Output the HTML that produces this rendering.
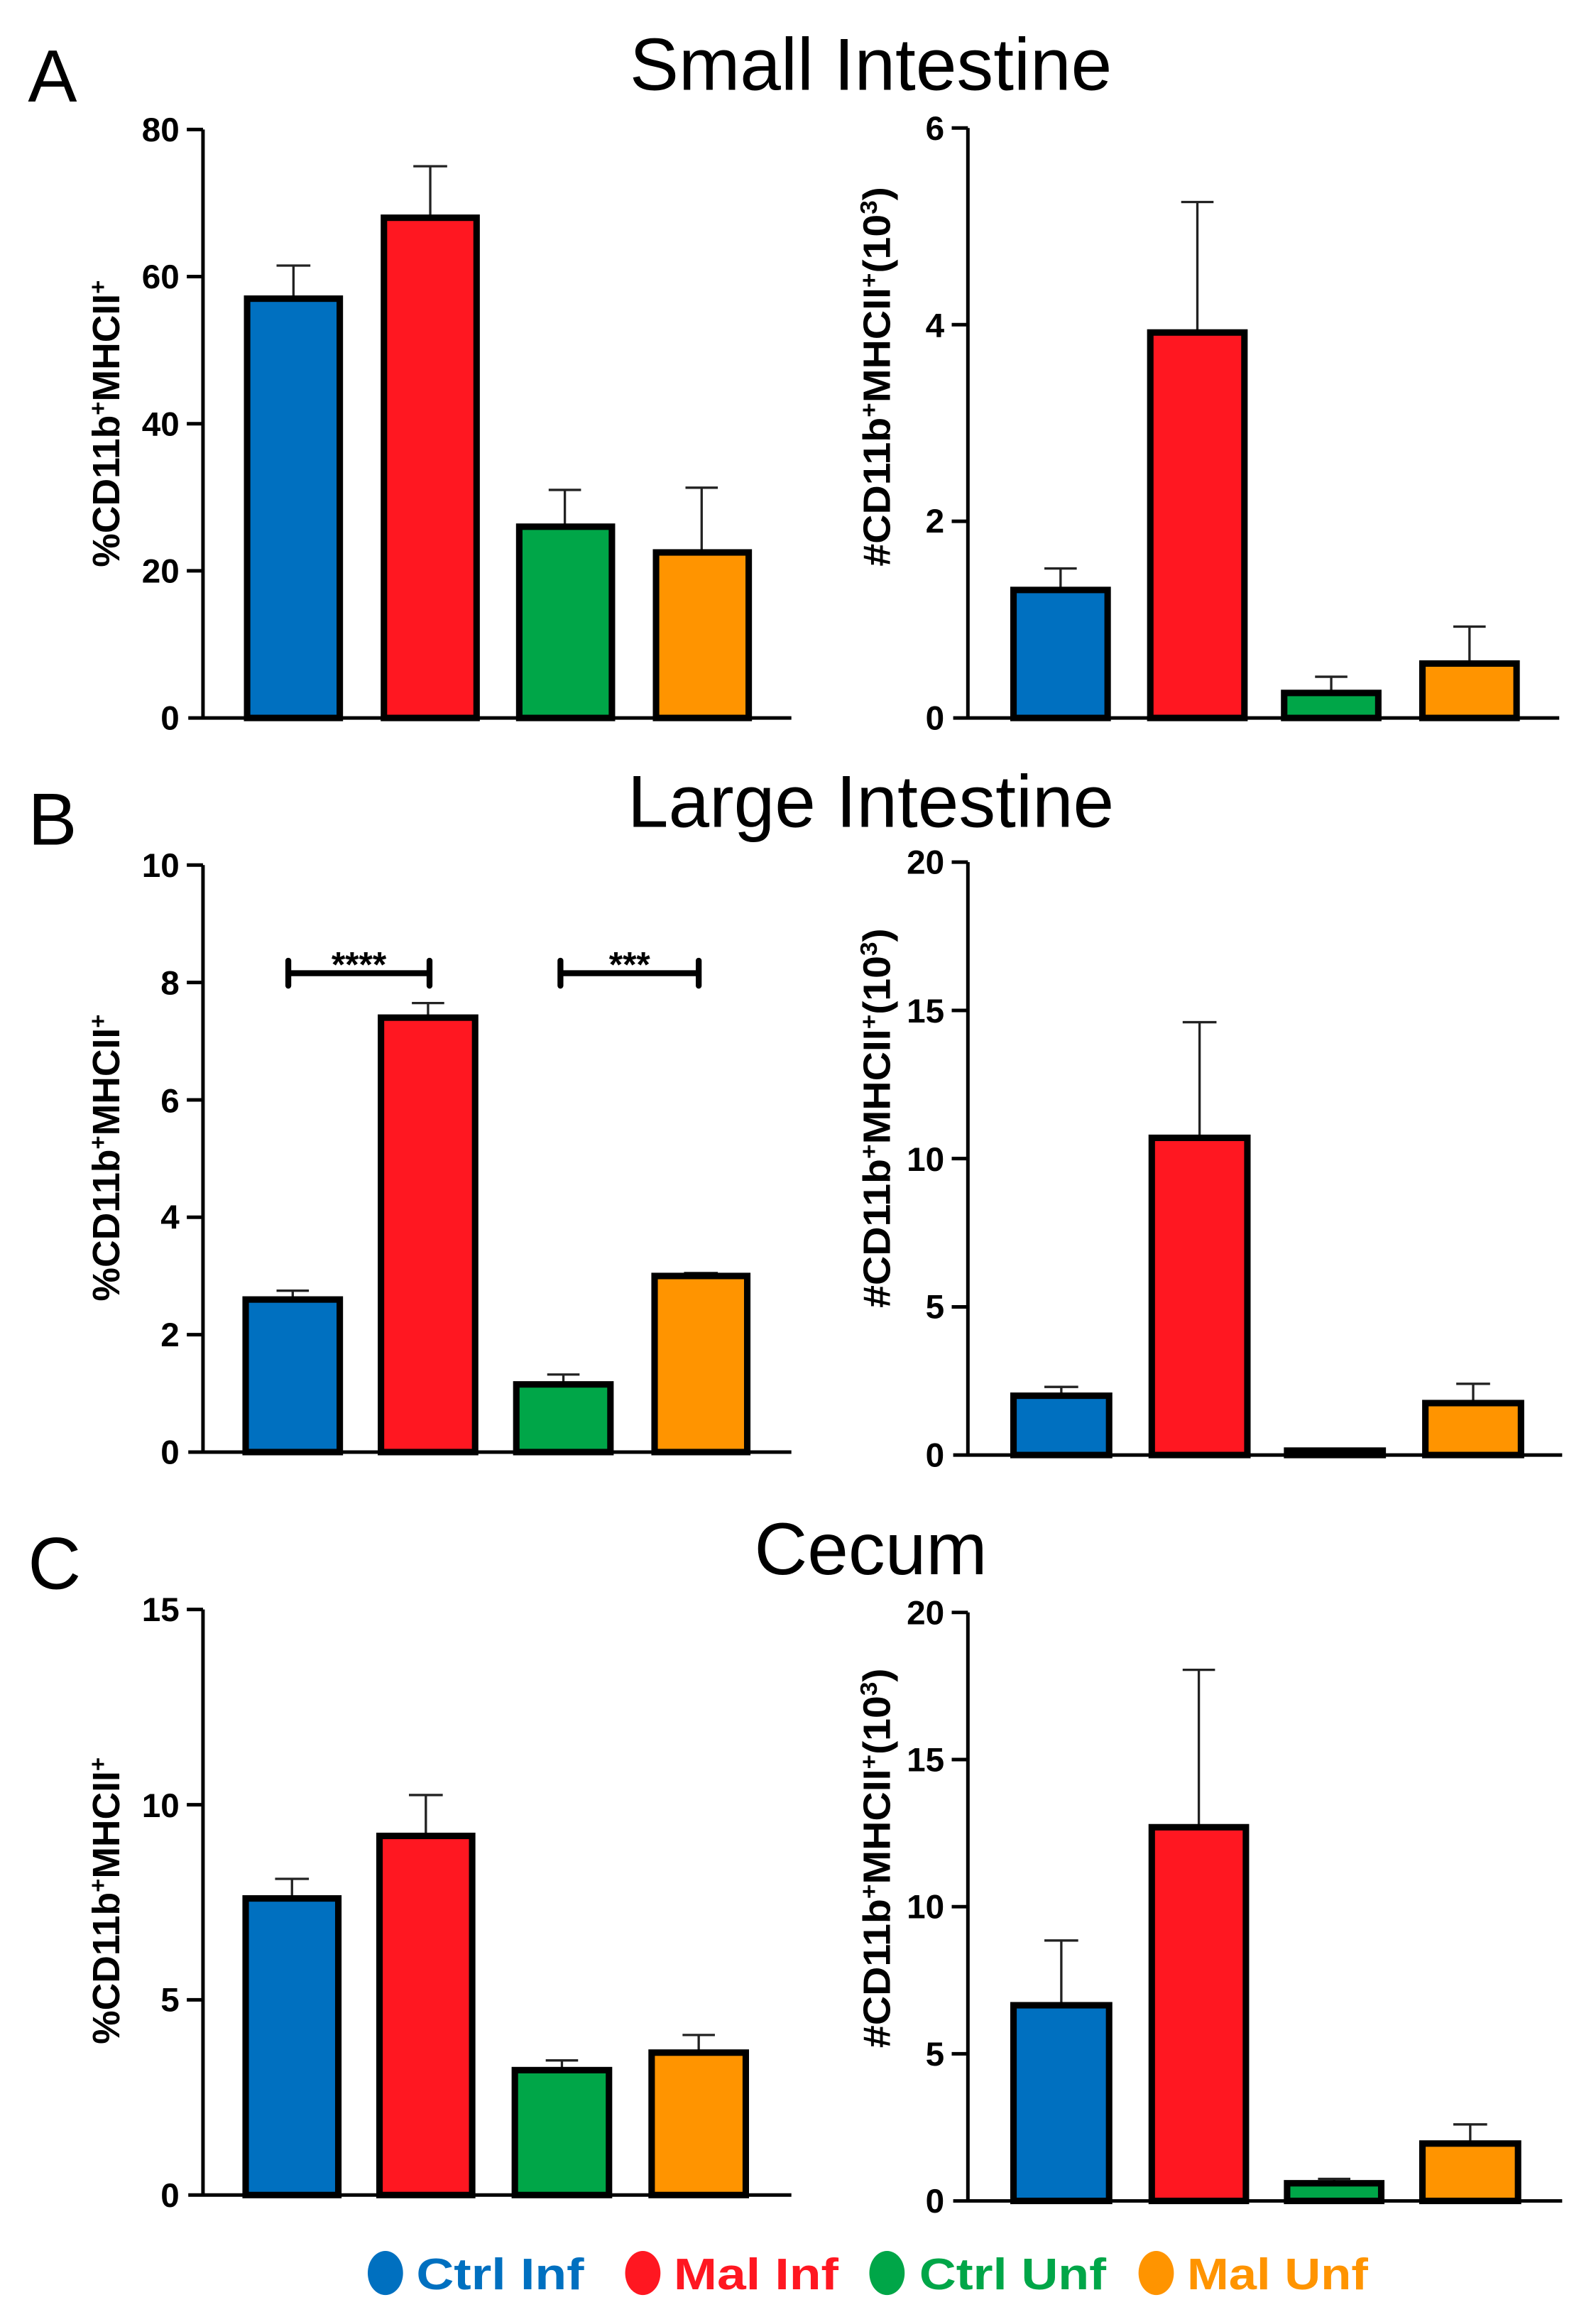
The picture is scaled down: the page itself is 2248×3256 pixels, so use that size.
<!DOCTYPE html>
<html><head><meta charset="utf-8"><style>
html,body{margin:0;padding:0;background:#fff}
svg{display:block}
.t{font-family:"Liberation Sans",sans-serif;font-weight:bold;font-size:23px;fill:#000}
.ti{font-family:"Liberation Sans",sans-serif;font-size:50px;fill:#000}
.yl{font-family:"Liberation Sans",sans-serif;font-weight:bold;font-size:26px;fill:#000}
.yr{font-family:"Liberation Sans",sans-serif;font-weight:bold;font-size:26px;fill:#000}
.lg{font-family:"Liberation Sans",sans-serif;font-weight:bold;font-size:30px}
.ax{stroke:#000;stroke-width:2.4;fill:none}
.b{stroke:#000;stroke-width:4.4}
.e{stroke:#222;stroke-width:1.6}
</style></head><body>
<svg width="2248" height="3256" viewBox="0 0 1085 1571.5" xmlns="http://www.w3.org/2000/svg">
<rect width="1085" height="1571.5" fill="#fff"/>
<text class="ti" x="19" y="69" font-size="50">A</text>
<text class="ti" x="592" y="61" text-anchor="middle">Small Intestine</text>
<text class="ti" x="19" y="574" font-size="50">B</text>
<text class="ti" x="592" y="562" text-anchor="middle">Large Intestine</text>
<text class="ti" x="19" y="1080" font-size="50">C</text>
<text class="ti" x="592" y="1070" text-anchor="middle">Cecum</text>

<!-- A left -->
<g>
<path class="ax" d="M138 88 V488 M128 488 H538 M127 88 H138 M127 188 H138 M127 288 H138 M127 388 H138"/>
<g class="t" text-anchor="end"><text x="122" y="96">80</text><text x="122" y="196">60</text><text x="122" y="296">40</text><text x="122" y="396">20</text><text x="122" y="496">0</text></g>
<text class="yl" transform="translate(81,288) rotate(-90)" text-anchor="middle" textLength="195" lengthAdjust="spacingAndGlyphs">%CD11b<tspan dy="-9" font-size="16">+</tspan><tspan dy="9">MHCII</tspan><tspan dy="-9" font-size="16">+</tspan></text>
<path class="e" d="M199.5 203 V180.5 M188 180.5 H211 M292.5 148 V113 M281 113 H304 M384 358 V333 M373 333 H395 M477 375.5 V331.5 M466 331.5 H488"/>
<rect class="b" x="168" y="203" width="63" height="285" fill="#0070C0"/>
<rect class="b" x="261" y="148" width="63" height="340" fill="#FF1721"/>
<rect class="b" x="353" y="358" width="63" height="130" fill="#00A648"/>
<rect class="b" x="446" y="375.5" width="63" height="112.5" fill="#FF9400"/>
</g>

<!-- A right -->
<g>
<path class="ax" d="M658 87 V488 M648 488 H1060 M647 87 H658 M647 220.7 H658 M647 354.3 H658"/>
<g class="t" text-anchor="end"><text x="642" y="95">6</text><text x="642" y="229">4</text><text x="642" y="362">2</text><text x="642" y="496">0</text></g>
<text class="yr" transform="translate(605,256) rotate(-90)" text-anchor="middle" textLength="258" lengthAdjust="spacingAndGlyphs">#CD11b<tspan dy="-9" font-size="16">+</tspan><tspan dy="9">MHCII</tspan><tspan dy="-9" font-size="16">+</tspan><tspan dy="9">(10</tspan><tspan dy="-9" font-size="16">3</tspan><tspan dy="9">)</tspan></text>
<path class="e" d="M721 401 V386.4 M710 386.4 H732 M814 226 V137.3 M803 137.3 H825 M905 471 V460 M894 460 H916 M999 451 V425.9 M988 425.9 H1010"/>
<rect class="b" x="689" y="401" width="64" height="87" fill="#0070C0"/>
<rect class="b" x="782" y="226" width="64" height="262" fill="#FF1721"/>
<rect class="b" x="873" y="471" width="64" height="17" fill="#00A648"/>
<rect class="b" x="967" y="451" width="64" height="37" fill="#FF9400"/>
</g>

<!-- B left -->
<g>
<path class="ax" d="M138 588 V987 M128 987 H538 M127 588 H138 M127 667.8 H138 M127 747.6 H138 M127 827.4 H138 M127 907.2 H138"/>
<g class="t" text-anchor="end"><text x="122" y="596">10</text><text x="122" y="676">8</text><text x="122" y="756">6</text><text x="122" y="835">4</text><text x="122" y="915">2</text><text x="122" y="995">0</text></g>
<text class="yl" transform="translate(81,787) rotate(-90)" text-anchor="middle" textLength="195" lengthAdjust="spacingAndGlyphs">%CD11b<tspan dy="-9" font-size="16">+</tspan><tspan dy="9">MHCII</tspan><tspan dy="-9" font-size="16">+</tspan></text>
<path class="e" d="M199 883.3 V877.3 M188 877.3 H210 M291 691.7 V681.8 M280 681.8 H302 M383 941 V934.3 M372 934.3 H394 M476.5 867.3 V865.3 M465 865.3 H488"/>
<rect class="b" x="167" y="883.3" width="64" height="103.7" fill="#0070C0"/>
<rect class="b" x="259" y="691.7" width="64" height="295.3" fill="#FF1721"/>
<rect class="b" x="351" y="941" width="64" height="46" fill="#00A648"/>
<rect class="b" x="445" y="867.3" width="63" height="119.7" fill="#FF9400"/>
<path d="M196 661.5 H292 M196 653 V670 M292 653 V670 M381 661.5 H475 M381 653 V670 M475 653 V670" stroke="#000" stroke-width="4" stroke-linecap="round"/>
<text x="244" y="664" text-anchor="middle" font-family="Liberation Sans,sans-serif" font-weight="bold" font-size="24">****</text>
<text x="428" y="664" text-anchor="middle" font-family="Liberation Sans,sans-serif" font-weight="bold" font-size="24">***</text>
</g>

<!-- B right -->
<g>
<path class="ax" d="M658 586 V989 M648 989 H1062 M647 586 H658 M647 686.8 H658 M647 787.5 H658 M647 888.3 H658"/>
<g class="t" text-anchor="end"><text x="642" y="594">20</text><text x="642" y="695">15</text><text x="642" y="796">10</text><text x="642" y="896">5</text><text x="642" y="997">0</text></g>
<text class="yr" transform="translate(605,760) rotate(-90)" text-anchor="middle" textLength="258" lengthAdjust="spacingAndGlyphs">#CD11b<tspan dy="-9" font-size="16">+</tspan><tspan dy="9">MHCII</tspan><tspan dy="-9" font-size="16">+</tspan><tspan dy="9">(10</tspan><tspan dy="-9" font-size="16">3</tspan><tspan dy="9">)</tspan></text>
<path class="e" d="M721.5 948.7 V942.7 M710 942.7 H733 M815.5 773.4 V694.8 M804 694.8 H827 M896 985 H919 M1001.5 953.7 V940.6 M990 940.6 H1013"/>
<rect class="b" x="689" y="948.7" width="65" height="40.3" fill="#0070C0"/>
<rect class="b" x="783" y="773.4" width="65" height="215.6" fill="#FF1721"/>
<rect class="b" x="875" y="986" width="65" height="3" fill="#00A648"/>
<rect class="b" x="969" y="953.7" width="65" height="35.3" fill="#FF9400"/>
</g>

<!-- C left -->
<g>
<path class="ax" d="M138 1094 V1492 M128 1492 H538 M127 1094 H138 M127 1226.7 H138 M127 1359.3 H138"/>
<g class="t" text-anchor="end"><text x="122" y="1102">15</text><text x="122" y="1235">10</text><text x="122" y="1367">5</text><text x="122" y="1500">0</text></g>
<text class="yl" transform="translate(81,1292) rotate(-90)" text-anchor="middle" textLength="195" lengthAdjust="spacingAndGlyphs">%CD11b<tspan dy="-9" font-size="16">+</tspan><tspan dy="9">MHCII</tspan><tspan dy="-9" font-size="16">+</tspan></text>
<path class="e" d="M198.5 1290.4 V1277.1 M187 1277.1 H210 M289.5 1247.9 V1220.1 M278 1220.1 H301 M382 1407.1 V1400.5 M371 1400.5 H393 M475 1395.2 V1383.2 M464 1383.2 H486"/>
<rect class="b" x="167" y="1290.4" width="63" height="201.6" fill="#0070C0"/>
<rect class="b" x="258" y="1247.9" width="63" height="244.1" fill="#FF1721"/>
<rect class="b" x="350" y="1407.1" width="64" height="84.9" fill="#00A648"/>
<rect class="b" x="443" y="1395.2" width="64" height="96.8" fill="#FF9400"/>
</g>

<!-- C right -->
<g>
<path class="ax" d="M658 1096 V1496 M648 1496 H1062 M647 1096 H658 M647 1196 H658 M647 1296 H658 M647 1396 H658"/>
<g class="t" text-anchor="end"><text x="642" y="1104">20</text><text x="642" y="1204">15</text><text x="642" y="1304">10</text><text x="642" y="1404">5</text><text x="642" y="1504">0</text></g>
<text class="yr" transform="translate(605,1263) rotate(-90)" text-anchor="middle" textLength="258" lengthAdjust="spacingAndGlyphs">#CD11b<tspan dy="-9" font-size="16">+</tspan><tspan dy="9">MHCII</tspan><tspan dy="-9" font-size="16">+</tspan><tspan dy="9">(10</tspan><tspan dy="-9" font-size="16">3</tspan><tspan dy="9">)</tspan></text>
<path class="e" d="M721.5 1363 V1319 M710 1319 H733 M815 1242 V1135 M804 1135 H826 M907 1484 V1481 M896 1481 H918 M999.5 1457 V1444 M988 1444 H1011"/>
<rect class="b" x="689" y="1363" width="65" height="133" fill="#0070C0"/>
<rect class="b" x="783" y="1242" width="64" height="254" fill="#FF1721"/>
<rect class="b" x="875" y="1484" width="64" height="12" fill="#00A648"/>
<rect class="b" x="967" y="1457" width="65" height="39" fill="#FF9400"/>
</g>

<!-- Legend -->
<g>
<ellipse cx="262" cy="1545" rx="12" ry="15" fill="#0070C0"/>
<text class="lg" x="283" y="1556" fill="#0070C0" textLength="114" lengthAdjust="spacingAndGlyphs">Ctrl Inf</text>
<ellipse cx="437" cy="1545" rx="12" ry="15" fill="#FF1721"/>
<text class="lg" x="458" y="1556" fill="#FF1721" textLength="112" lengthAdjust="spacingAndGlyphs">Mal Inf</text>
<ellipse cx="603" cy="1545" rx="12" ry="15" fill="#00A648"/>
<text class="lg" x="625" y="1556" fill="#00A648" textLength="127" lengthAdjust="spacingAndGlyphs">Ctrl Unf</text>
<ellipse cx="786" cy="1545" rx="12" ry="15" fill="#FF9400"/>
<text class="lg" x="807" y="1556" fill="#FF9400" textLength="123" lengthAdjust="spacingAndGlyphs">Mal Unf</text>
</g>
</svg>
</body></html>
